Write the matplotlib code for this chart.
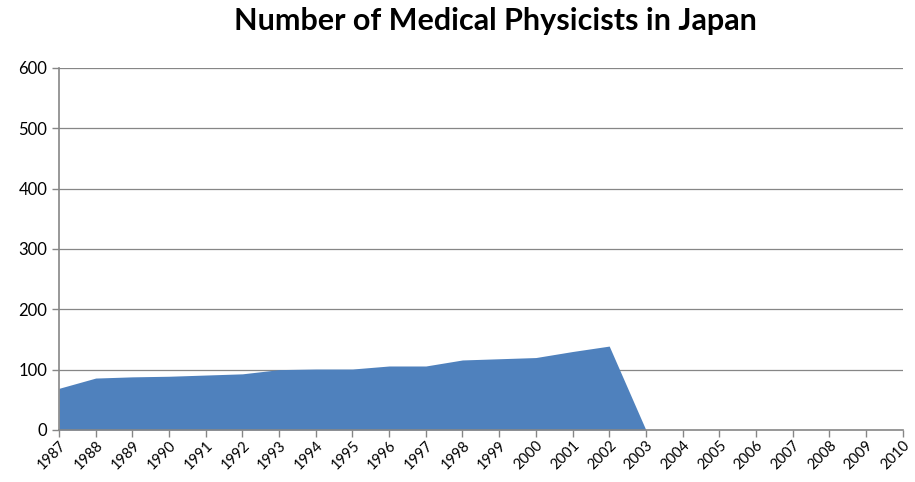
import matplotlib.pyplot as plt

years = list(range(1987, 2011))
physicists = [69, 86, 88, 89, 91, 93, 100, 101, 101, 106, 106, 116, 118, 120, 130, 139,
              0, 0, 0, 0, 0, 0, 0, 0]
yticks = [0, 100, 200, 300, 400, 500, 600]

plt.rcParams['font.family'] = ['Lato', 'DejaVu Sans']

fig = plt.figure(figsize=(9.15, 4.82), dpi=100)
ax = fig.add_axes([0.0645, 0.108, 0.922, 0.751])

ax.fill_between(years, physicists, 0, color="#4F81BD", linewidth=0)

ax.set_xlim(1987, 2010)
ax.set_ylim(0, 600)
ax.set_xticks(years)
ax.set_xticklabels([str(y) for y in years], rotation=45, ha="right",
                   rotation_mode="anchor", fontsize=10.5)
ax.set_yticks(yticks)
ax.set_yticklabels([str(v) for v in yticks], fontsize=12)

for v in yticks[1:]:
    ax.axhline(v, color="#868686", linewidth=0.9, zorder=0)

for s in ["top", "right"]:
    ax.spines[s].set_visible(False)
for s in ["left", "bottom"]:
    ax.spines[s].set_color("#868686")
    ax.spines[s].set_linewidth(1.2)
ax.tick_params(axis="both", color="#868686", length=5, width=1, direction="out")
ax.tick_params(axis="x", pad=1)

fig.suptitle("Number of Medical Physicists in Japan", fontsize=22, fontweight="bold",
             x=0.542, y=0.985)

fig.savefig("out.png", dpi=100)
